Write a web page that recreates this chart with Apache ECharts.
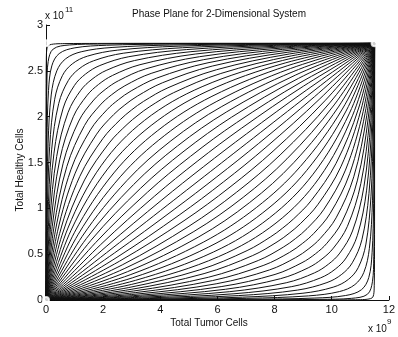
<!DOCTYPE html>
<html>
<head>
<meta charset="utf-8">
<title>Phase Plane for 2-Dimensional System</title>
<script src="https://cdn.jsdelivr.net/npm/echarts@6/dist/echarts.min.js"></script>
<style>
  html, body { margin: 0; padding: 0; background: #fff; }
  #chart { width: 398px; height: 337px; }
</style>
</head>
<body>
<div id="chart"></div>
<script>
// Units: tumor cells in 1e9, healthy cells in 1e11.
// Trajectories bending towards the healthy-cell axis (upper-left family).
const upperTrajectories = [
  [[0,0],[0,0.972],[0.001,1.805],[0.004,2.361],[0.012,2.639],[0.092,2.778],[0.662,2.797],[1.803,2.799],[4.085,2.8],[7.507,2.8],[11.5,2.8]],
  [[0,0],[0.003,0.958],[0.01,1.78],[0.029,2.328],[0.076,2.601],[0.253,2.738],[0.815,2.782],[1.94,2.793],[4.189,2.798],[7.564,2.799],[11.5,2.8]],
  [[0,0],[0.01,0.941],[0.033,1.747],[0.088,2.285],[0.203,2.554],[0.46,2.688],[1.012,2.751],[2.116,2.779],[4.324,2.792],[7.636,2.798],[11.5,2.8]],
  [[0,0],[0.023,0.921],[0.073,1.711],[0.183,2.237],[0.378,2.5],[0.69,2.632],[1.231,2.708],[2.312,2.755],[4.474,2.782],[7.717,2.794],[11.5,2.8]],
  [[0,0],[0.041,0.902],[0.128,1.674],[0.304,2.19],[0.573,2.447],[0.92,2.576],[1.449,2.66],[2.507,2.726],[4.623,2.769],[7.797,2.79],[11.5,2.8]],
  [[0,0],[0.065,0.882],[0.197,1.638],[0.444,2.142],[0.78,2.394],[1.15,2.52],[1.668,2.61],[2.703,2.692],[4.773,2.752],[7.878,2.784],[11.5,2.8]],
  [[0,0],[0.094,0.862],[0.279,1.602],[0.602,2.094],[0.996,2.341],[1.38,2.464],[1.886,2.558],[2.898,2.654],[4.922,2.732],[7.958,2.777],[11.5,2.8]],
  [[0,0],[0.13,0.843],[0.374,1.565],[0.773,2.047],[1.217,2.288],[1.61,2.408],[2.105,2.504],[3.094,2.612],[5.072,2.709],[8.039,2.768],[11.5,2.8]],
  [[0,0],[0.171,0.823],[0.481,1.529],[0.955,1.999],[1.442,2.234],[1.84,2.352],[2.323,2.449],[3.289,2.567],[5.221,2.683],[8.119,2.758],[11.5,2.8]],
  [[0,0],[0.219,0.804],[0.6,1.492],[1.147,1.952],[1.67,2.181],[2.07,2.296],[2.542,2.393],[3.485,2.521],[5.371,2.654],[8.2,2.747],[11.5,2.8]],
  [[0,0],[0.273,0.784],[0.729,1.456],[1.348,1.904],[1.9,2.128],[2.3,2.24],[2.76,2.337],[3.68,2.472],[5.52,2.622],[8.28,2.734],[11.5,2.8]],
  [[0,0],[0.334,0.764],[0.87,1.42],[1.556,1.856],[2.132,2.075],[2.53,2.184],[2.979,2.281],[3.876,2.421],[5.67,2.588],[8.361,2.719],[11.5,2.8]],
  [[0,0],[0.401,0.745],[1.02,1.383],[1.771,1.809],[2.366,2.022],[2.76,2.128],[3.197,2.224],[4.071,2.369],[5.819,2.552],[8.441,2.702],[11.5,2.8]],
  [[0,0],[0.476,0.725],[1.181,1.347],[1.991,1.761],[2.6,1.968],[2.99,2.072],[3.416,2.167],[4.267,2.315],[5.969,2.512],[8.522,2.684],[11.5,2.8]],
  [[0,0],[0.558,0.706],[1.35,1.31],[2.215,1.714],[2.836,1.915],[3.22,2.016],[3.634,2.11],[4.462,2.261],[6.118,2.471],[8.602,2.664],[11.5,2.8]],
  [[0,0],[0.767,0.784],[1.941,1.47],[3.45,1.96],[5.463,2.327],[8.28,2.613],[11.5,2.8]],
  [[0,0],[0.879,0.762],[2.154,1.428],[3.68,1.904],[5.635,2.276],[8.372,2.586],[11.5,2.8]],
  [[0,0],[1.0,0.739],[2.374,1.386],[3.91,1.848],[5.808,2.222],[8.464,2.557],[11.5,2.8]],
  [[0,0],[1.129,0.717],[2.599,1.344],[4.14,1.792],[5.98,2.167],[8.556,2.525],[11.5,2.8]],
  [[0,0],[1.267,0.694],[2.83,1.302],[4.37,1.736],[6.153,2.111],[8.648,2.491],[11.5,2.8]],
  [[0,0],[1.416,0.672],[3.067,1.26],[4.6,1.68],[6.325,2.053],[8.74,2.455],[11.5,2.8]],
  [[0,0],[1.572,0.65],[3.307,1.218],[4.83,1.624],[6.498,1.995],[8.832,2.417],[11.5,2.8]],
  [[0,0],[1.74,0.627],[3.552,1.176],[5.06,1.568],[6.67,1.935],[8.924,2.376],[11.5,2.8]],
  [[0,0],[1.916,0.605],[3.802,1.134],[5.29,1.512],[6.843,1.874],[9.016,2.334],[11.5,2.8]],
  [[0,0],[2.103,0.582],[4.056,1.092],[5.52,1.456],[7.015,1.812],[9.108,2.288],[11.5,2.8]]
];

// Trajectories bending towards the tumor-cell axis (lower-right family).
const lowerTrajectories = [
  [[0,0],[3.993,0],[7.415,0],[9.697,0.001],[10.838,0.003],[11.408,0.022],[11.488,0.161],[11.496,0.439],[11.499,0.995],[11.5,1.828],[11.5,2.8]],
  [[0,0],[3.936,0.001],[7.311,0.002],[9.56,0.007],[10.685,0.018],[11.247,0.062],[11.424,0.199],[11.471,0.472],[11.49,1.02],[11.497,1.842],[11.5,2.8]],
  [[0,0],[3.864,0.002],[7.176,0.008],[9.384,0.021],[10.488,0.049],[11.04,0.112],[11.297,0.246],[11.412,0.515],[11.467,1.053],[11.49,1.859],[11.5,2.8]],
  [[0,0],[3.784,0.006],[7.027,0.018],[9.189,0.045],[10.27,0.092],[10.81,0.168],[11.122,0.3],[11.317,0.563],[11.427,1.089],[11.477,1.879],[11.5,2.8]],
  [[0,0],[3.703,0.01],[6.877,0.031],[8.993,0.074],[10.051,0.14],[10.58,0.224],[10.927,0.353],[11.196,0.61],[11.372,1.126],[11.459,1.898],[11.5,2.8]],
  [[0,0],[3.623,0.016],[6.728,0.048],[8.798,0.108],[9.833,0.19],[10.35,0.28],[10.72,0.406],[11.056,0.658],[11.303,1.162],[11.435,1.918],[11.5,2.8]],
  [[0,0],[3.542,0.023],[6.578,0.068],[8.602,0.146],[9.614,0.242],[10.12,0.336],[10.504,0.459],[10.898,0.706],[11.221,1.198],[11.406,1.938],[11.5,2.8]],
  [[0,0],[3.462,0.032],[6.429,0.091],[8.407,0.188],[9.396,0.296],[9.89,0.392],[10.283,0.512],[10.727,0.753],[11.126,1.235],[11.37,1.957],[11.5,2.8]],
  [[0,0],[3.381,0.042],[6.279,0.117],[8.211,0.233],[9.177,0.351],[9.66,0.448],[10.058,0.566],[10.545,0.801],[11.019,1.271],[11.329,1.977],[11.5,2.8]],
  [[0,0],[3.301,0.053],[6.13,0.146],[8.016,0.279],[8.959,0.407],[9.43,0.504],[9.83,0.619],[10.353,0.848],[10.901,1.308],[11.281,1.996],[11.5,2.8]],
  [[0,0],[3.22,0.066],[5.98,0.178],[7.82,0.328],[8.74,0.463],[9.2,0.56],[9.6,0.672],[10.152,0.896],[10.771,1.344],[11.227,2.016],[11.5,2.8]],
  [[0,0],[3.14,0.081],[5.831,0.212],[7.625,0.379],[8.522,0.519],[8.97,0.616],[9.368,0.725],[9.944,0.944],[10.63,1.38],[11.166,2.036],[11.5,2.8]],
  [[0,0],[3.059,0.098],[5.681,0.248],[7.429,0.431],[8.303,0.576],[8.74,0.672],[9.134,0.778],[9.729,0.991],[10.48,1.417],[11.099,2.055],[11.5,2.8]],
  [[0,0],[2.979,0.116],[5.532,0.288],[7.234,0.485],[8.085,0.633],[8.51,0.728],[8.9,0.832],[9.509,1.039],[10.319,1.453],[11.024,2.075],[11.5,2.8]],
  [[0,0],[2.898,0.136],[5.382,0.329],[7.038,0.539],[7.866,0.69],[8.28,0.784],[8.664,0.885],[9.285,1.086],[10.15,1.49],[10.942,2.094],[11.5,2.8]],
  [[0,0],[3.22,0.187],[6.038,0.473],[8.05,0.84],[9.559,1.33],[10.733,2.016],[11.5,2.8]],
  [[0,0],[3.128,0.214],[5.865,0.524],[7.82,0.896],[9.346,1.372],[10.621,2.038],[11.5,2.8]],
  [[0,0],[3.036,0.243],[5.693,0.578],[7.59,0.952],[9.126,1.414],[10.5,2.061],[11.5,2.8]],
  [[0,0],[2.944,0.275],[5.52,0.633],[7.36,1.008],[8.901,1.456],[10.371,2.083],[11.5,2.8]],
  [[0,0],[2.852,0.309],[5.348,0.689],[7.13,1.064],[8.67,1.498],[10.233,2.106],[11.5,2.8]],
  [[0,0],[2.76,0.345],[5.175,0.747],[6.9,1.12],[8.433,1.54],[10.084,2.128],[11.5,2.8]],
  [[0,0],[2.668,0.383],[5.003,0.805],[6.67,1.176],[8.193,1.582],[9.928,2.15],[11.5,2.8]],
  [[0,0],[2.576,0.424],[4.83,0.865],[6.44,1.232],[7.948,1.624],[9.76,2.173],[11.5,2.8]],
  [[0,0],[2.484,0.466],[4.658,0.926],[6.21,1.288],[7.698,1.666],[9.584,2.195],[11.5,2.8]],
  [[0,0],[2.392,0.512],[4.485,0.988],[5.98,1.344],[7.444,1.708],[9.397,2.218],[11.5,2.8]]
];

// Straight trajectory between the two nodes.
const diagonalTrajectory = [[0,0],[5.75,1.4],[11.5,2.8]];

// Equilibrium points marked with circles.
const equilibria = [[0,0],[0,2.8],[11.5,2.8]];

const xTicks = [0, 2, 4, 6, 8, 10, 12];
const yTicks = [0, 0.5, 1, 1.5, 2, 2.5, 3];

const titleText = 'Phase Plane for 2-Dimensional System';
const xName = 'Total Tumor Cells';
const yName = 'Total Healthy Cells';

const FONT = 'Liberation Sans, Arial, Helvetica, sans-serif';
const INK = '#111';

const chart = echarts.init(document.getElementById('chart'), null, { renderer: 'canvas' });

const trajectorySeries = [...upperTrajectories, diagonalTrajectory, ...lowerTrajectories].map(pts => ({
  type: 'line',
  data: pts,
  showSymbol: false,
  smooth: 0.35,
  silent: true,
  animation: false,
  lineStyle: { color: INK, width: 1 },
  z: 2
}));

chart.setOption({
  backgroundColor: '#fff',
  animation: false,
  grid: { left: 46, right: 4, top: 25, bottom: 37, containLabel: false },
  xAxis: {
    type: 'value',
    min: xTicks[0],
    max: xTicks[xTicks.length - 1],
    interval: xTicks[1] - xTicks[0],
    splitLine: { show: false },
    axisLine: { onZero: false, lineStyle: { color: INK, width: 1 } },
    axisTick: { inside: true, length: 4, lineStyle: { color: INK } },
    axisLabel: { color: INK, fontFamily: FONT, fontSize: 11, margin: 4 }
  },
  yAxis: {
    type: 'value',
    min: yTicks[0],
    max: yTicks[yTicks.length - 1],
    interval: yTicks[1] - yTicks[0],
    splitLine: { show: false },
    axisLine: { onZero: false, lineStyle: { color: INK, width: 1 } },
    axisTick: { inside: true, length: 4, lineStyle: { color: INK } },
    axisLabel: { color: INK, fontFamily: FONT, fontSize: 11, margin: 3 }
  },
  series: [
    ...trajectorySeries,
    {
      type: 'scatter',
      data: equilibria,
      symbol: 'emptyCircle',
      symbolSize: 6,
      silent: true,
      itemStyle: { color: '#fff', borderColor: INK, borderWidth: 1 },
      z: 5
    }
  ],
  graphic: [
    { type: 'text', x: 219, y: 14, style: { text: titleText, fill: INK, font: '10px ' + FONT, align: 'center', verticalAlign: 'middle' } },
    { type: 'text', x: 45, y: 11, style: { text: 'x 10', fill: INK, font: '10px ' + FONT } },
    { type: 'text', x: 65, y: 6, style: { text: '11', fill: INK, font: '8px ' + FONT } },
    { type: 'text', x: 209, y: 323, style: { text: xName, fill: INK, font: '10px ' + FONT, align: 'center', verticalAlign: 'middle' } },
    { type: 'text', x: 20, y: 170, rotation: Math.PI / 2, style: { text: yName, fill: INK, font: '10px ' + FONT, align: 'center', verticalAlign: 'middle' } },
    { type: 'text', x: 368, y: 324, style: { text: 'x 10', fill: INK, font: '10px ' + FONT } },
    { type: 'text', x: 387, y: 318, style: { text: '9', fill: INK, font: '8px ' + FONT } }
  ]
});
</script>
</body>
</html>
